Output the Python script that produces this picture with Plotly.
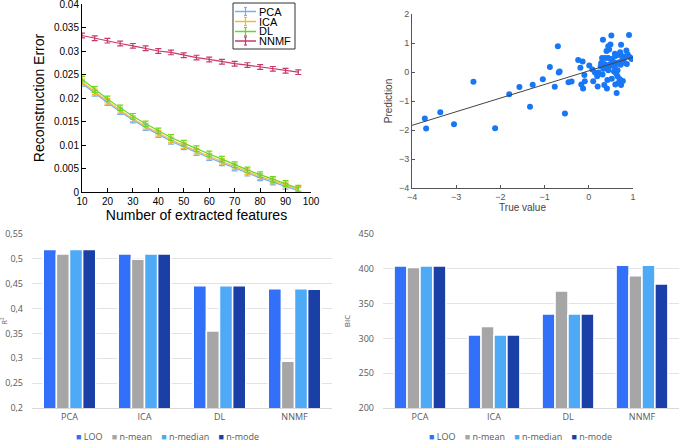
import plotly.graph_objects as go

W, H = 685, 442

# ---------------- data: reconstruction error ----------------
n_features = [10, 15, 20, 25, 30, 35, 40, 45, 50, 55, 60, 65, 70, 75, 80, 85, 90, 95]
err_pca = [0.0231, 0.0210, 0.0190, 0.0171, 0.0153, 0.0137, 0.0122, 0.0108, 0.0096,
           0.0084, 0.0073, 0.0062, 0.0051, 0.0040, 0.0030, 0.0021, 0.0012, 0.0003]
err_ica = [0.0234, 0.0213, 0.0193, 0.0174, 0.0156, 0.0140, 0.0125, 0.0111, 0.0099,
           0.0087, 0.0076, 0.0065, 0.0054, 0.0043, 0.0033, 0.0024, 0.0015, 0.0006]
err_dl = [0.0240, 0.0218, 0.0198, 0.0179, 0.0161, 0.0145, 0.0130, 0.0116, 0.0104,
          0.0092, 0.0081, 0.0070, 0.0058, 0.0047, 0.0037, 0.0027, 0.0018, 0.0008]
err_nnmf = [0.0333, 0.0327, 0.0322, 0.0316, 0.0311, 0.0306, 0.0300, 0.0297, 0.0291,
            0.0286, 0.0282, 0.0277, 0.0273, 0.0270, 0.0266, 0.0262, 0.0258, 0.0255]
sd_pca = [0.0006] * 18
sd_ica = [0.0006] * 18
sd_dl = [0.0006] * 18
sd_nnmf = [0.0005] * 18
err_ticks = [0, 0.005, 0.01, 0.015, 0.02, 0.025, 0.03, 0.035, 0.04]
err_ticktext = ["0", "0.005", "0.01", "0.015", "0.02", "0.025", "0.03", "0.035", "0.04"]

# ---------------- data: prediction scatter ----------------
true_vals = [-3.71, -3.68, -3.36, -3.05, -2.61, -2.12, -1.80, -1.57, -1.27, -1.33, -1.04,
             -0.88, -0.77, -0.70, -0.68, -0.66, -0.54, -0.46, -0.39, -0.24, -0.19, -0.17,
             -0.14, -0.13, -0.10, -0.09, 0.01, 0.08, 0.10, 0.14, 0.19, 0.20, 0.22,
             0.32, 0.51, 0.91, 0.44, 0.49, 0.40, 0.46, 0.73, 0.85, 0.59, 0.65, 0.71,
             0.60, 0.82, 0.93, 0.97, 0.30, 0.37, 0.44, 0.52, 0.28, 0.35, 0.41, 0.49,
             0.60, 0.69, 0.76, 0.86, 0.55, 0.65, 0.72, 0.80, 0.59, 0.65, 0.33, 0.44,
             0.38, 0.27, 0.31, 0.65, 0.70, 0.52, 0.42, 0.35, 0.60, 0.67, 0.77, 0.73,
             0.63, 0.41, 0.57, 0.62, 0.47, 0.75, 0.88]
pred_vals = [-1.60, -1.95, -1.39, -1.80, -0.34, -1.94, -0.77, -0.52, -0.44, -1.20, -0.25,
             0.17, -0.51, 0.89, -0.02, 0.02, -1.43, -0.35, -0.33, 0.41, 0.15, -0.43,
             0.36, -0.57, -0.10, -0.32, 0.22, 0.09, -0.32, -0.02, -0.15, -0.50, -0.02,
             1.11, 1.26, 1.28, 0.89, 0.95, 0.72, 0.78, 0.94, 0.74, 0.63, 0.59, 0.68,
             0.55, 0.53, 0.51, 0.45, 0.48, 0.48, 0.48, 0.45, 0.31, 0.28, 0.23, 0.28,
             0.31, 0.34, 0.42, 0.28, 0.35, 0.30, 0.25, 0.33, 0.17, 0.06, 0.11, 0.06,
             0.15, 0.20, -0.09, -0.15, -0.25, -0.23, -0.28, -0.45, -0.43, -0.38, -0.31,
             -0.45, -0.72, -0.57, 0.02, -0.05, 0.20, 0.55, 0.60]
fit_x = [-4, 1]
fit_y = [-1.84, 0.51]

# ---------------- data: bar charts ----------------
methods = ["PCA", "ICA", "DL", "NNMF"]
series_names = ["LOO", "n-mean", "n-median", "n-mode"]
r2_loo = [0.519, 0.510, 0.446, 0.440]
r2_mean = [0.510, 0.499, 0.355, 0.294]
r2_median = [0.519, 0.510, 0.446, 0.440]
r2_mode = [0.519, 0.510, 0.446, 0.439]
bic_loo = [404, 305, 335, 405]
bic_mean = [402, 317, 368, 390]
bic_median = [404, 305, 335, 405]
bic_mode = [404, 305, 335, 378]
r2_ticks = [0.2, 0.25, 0.3, 0.35, 0.4, 0.45, 0.5, 0.55]
r2_ticktext = ["0,2", "0,25", "0,3", "0,35", "0,4", "0,45", "0,5", "0,55"]
bic_ticks = [200, 250, 300, 350, 400, 450]

line_colors = ["#7aaef2", "#f2b83a", "#6ad61c", "#c8386a"]
bar_colors = ["#3370fa", "#a6a6a6", "#4eaaf7", "#1a3fa6"]


def px(x):
    return x / W


def py(y):
    return 1 - y / H


fig = go.Figure()

# line chart
for name, ys, sd, col in zip(["PCA", "ICA", "DL", "NNMF"],
                             [err_pca, err_ica, err_dl, err_nnmf],
                             [sd_pca, sd_ica, sd_dl, sd_nnmf], line_colors):
    fig.add_trace(go.Scatter(
        x=n_features, y=ys, mode="lines", name=name, showlegend=False,
        line=dict(color=col, width=1.2),
        error_y=dict(type="data", array=sd, color=col, thickness=1.2, width=3),
        xaxis="x", yaxis="y"))

# scatter
fig.add_trace(go.Scatter(x=true_vals, y=pred_vals, mode="markers", showlegend=False,
                         marker=dict(color="#1877f5", size=6), xaxis="x2", yaxis="y2"))
fig.add_trace(go.Scatter(x=fit_x, y=fit_y, mode="lines", showlegend=False,
                         line=dict(color="#444444", width=1), xaxis="x2", yaxis="y2"))

# bars
for name, vals, col in zip(series_names, [r2_loo, r2_mean, r2_median, r2_mode], bar_colors):
    fig.add_trace(go.Bar(x=methods, y=vals, name=name, showlegend=False,
                         marker=dict(color=col, line=dict(color="white", width=1.5)),
                         xaxis="x3", yaxis="y3"))
for name, vals, col in zip(series_names, [bic_loo, bic_mean, bic_median, bic_mode], bar_colors):
    fig.add_trace(go.Bar(x=methods, y=vals, name=name, showlegend=False,
                         marker=dict(color=col, line=dict(color="white", width=1.5)),
                         xaxis="x4", yaxis="y4"))

tl_font = dict(family="Liberation Sans, Arial", size=10, color="black")
sc_font = dict(family="Liberation Sans, Arial", size=9, color="#555555")
bar_font = dict(family="Open Sans", size=9, color="#595959")

fig.update_layout(
    width=W, height=H, margin=dict(l=0, r=0, t=0, b=0),
    paper_bgcolor="white", plot_bgcolor="white",
    barmode="group", bargap=0.3, bargroupgap=0.0,
    showlegend=False,
    xaxis=dict(domain=[px(82), px(311)], anchor="y", range=[10, 100], dtick=10, automargin=False,
               showline=True, linecolor="black", linewidth=1, ticks="inside", ticklen=4,
               tickcolor="black", showgrid=False, zeroline=False, tickfont=tl_font,
               ticklabeloverflow="allow",
               title=dict(text="Number of extracted features",
                          font=dict(family="Liberation Sans, Arial", size=14, color="black"),
                          standoff=4)),
    yaxis=dict(domain=[py(192), py(4)], anchor="x", range=[0, 0.04], tickvals=err_ticks,
               ticktext=err_ticktext, automargin=False, ticklabeloverflow="allow",
               showline=True, linecolor="black", linewidth=1, ticks="inside", ticklen=4,
               tickcolor="black", showgrid=False, zeroline=False, tickfont=tl_font,
               title=dict(text="Reconstruction Error",
                          font=dict(family="Liberation Sans, Arial", size=14, color="black"),
                          standoff=6)),
    xaxis2=dict(domain=[px(412), px(633)], anchor="y2", range=[-4, 1], dtick=1, automargin=False,
                showline=True, linecolor="#555555", linewidth=1, ticks="inside", ticklen=3,
                tickcolor="#555555", showgrid=False, zeroline=False, tickfont=sc_font,
                title=dict(text="True value", font=dict(family="Liberation Sans, Arial", size=10, color="#444444"),
                           standoff=3)),
    yaxis2=dict(domain=[py(188), py(14)], anchor="x2", range=[-4, 2], dtick=1, automargin=False,
                showline=True, linecolor="#555555", linewidth=1, ticks="inside", ticklen=3,
                tickcolor="#555555", showgrid=False, zeroline=False, tickfont=sc_font,
                title=dict(text="Prediction", font=dict(family="Liberation Sans, Arial", size=10, color="#444444"),
                           standoff=4)),
    xaxis3=dict(domain=[px(32), px(332)], anchor="y3", showline=True, linecolor="#d9d9d9", automargin=False,
                showgrid=False, tickfont=bar_font, ticks=""),
    yaxis3=dict(domain=[py(408), py(234)], anchor="x3", range=[0.2, 0.55], tickvals=r2_ticks, automargin=False,
                ticktext=r2_ticktext, showgrid=True, gridcolor="#e3e3e3", gridwidth=1,
                zeroline=False, showline=False, tickfont=bar_font, ticklabelstandoff=8,
                title=dict(text="R²", font=dict(family="Open Sans", size=7, color="#595959"), standoff=6)),
    xaxis4=dict(domain=[px(383), px(679)], anchor="y4", showline=True, linecolor="#d9d9d9", automargin=False,
                showgrid=False, tickfont=bar_font, ticks=""),
    yaxis4=dict(domain=[py(408), py(234)], anchor="x4", range=[200, 450], tickvals=bic_ticks, automargin=False,
                showgrid=True, gridcolor="#e3e3e3", gridwidth=1, zeroline=False, showline=False,
                tickfont=bar_font, ticklabelstandoff=8,
                title=dict(text="BIC", font=dict(family="Open Sans", size=8, color="#595959"), standoff=6)),
)

# manual legend for the reconstruction-error chart
shapes = [dict(type="rect", xref="paper", yref="paper", x0=px(233), x1=px(295), y0=py(49), y1=py(3),
               line=dict(color="#333333", width=1), fillcolor="white", layer="above")]
annotations = []
entry_y = [11.5, 21.5, 31.5, 41.0]
for name, col, yy in zip(["PCA", "ICA", "DL", "NNMF"], line_colors, entry_y):
    shapes.append(dict(type="line", xref="paper", yref="paper", x0=px(235), x1=px(256), y0=py(yy), y1=py(yy),
                       line=dict(color=col, width=1.5), layer="above"))
    shapes.append(dict(type="line", xref="paper", yref="paper", x0=px(245.5), x1=px(245.5), y0=py(yy - 4), y1=py(yy + 4),
                       line=dict(color=col, width=1.2), layer="above"))
    for dy in (-4, 4):
        shapes.append(dict(type="line", xref="paper", yref="paper", x0=px(244), x1=px(247), y0=py(yy + dy),
                           y1=py(yy + dy), line=dict(color=col, width=1.2), layer="above"))
    annotations.append(dict(text=name, xref="paper", yref="paper", x=px(257), y=py(yy), xanchor="left",
                            yanchor="middle", showarrow=False, height=10,
                            font=dict(family="Liberation Sans, Arial", size=11, color="black")))

# legends for the bar charts
leg_parts = []
for name, col in zip(series_names, bar_colors):
    leg_parts.append(f"<span style='color:{col}'>■</span>&nbsp;{name}")
leg_text = "&nbsp;&nbsp;&nbsp;&nbsp;".join(leg_parts)
for cx in (167, 520):
    annotations.append(dict(text=leg_text, xref="paper", yref="paper", x=px(cx), y=py(436),
                            xanchor="center", yanchor="middle", showarrow=False,
                            font=dict(family="Open Sans", size=9, color="#595959")))

fig.update_layout(shapes=shapes, annotations=annotations)

fig.write_html("out.html", config={"displayModeBar": False},
               post_script="document.body.style.margin='0';document.body.style.overflow='hidden';")
